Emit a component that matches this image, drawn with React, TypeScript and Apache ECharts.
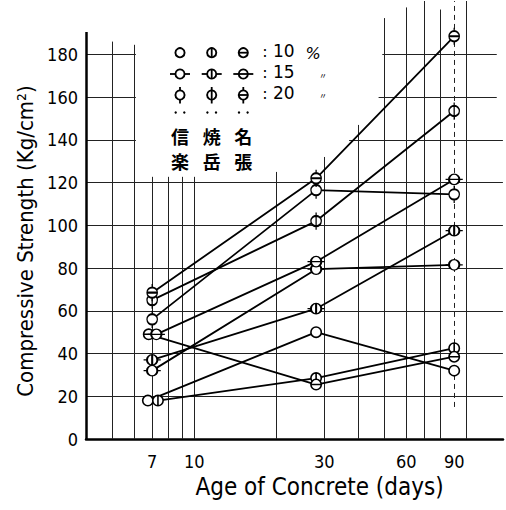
import React, { useEffect, useRef } from 'react';
import * as echarts from 'echarts';

// ---- data ----
const ages = [7, 28, 90];
const xTickLabels = [7, 10, 30, 60, 90];
const yTickLabels = [0, 20, 40, 60, 80, 100, 120, 140, 160, 180];

const seriesNames = ['信楽 10%', '信楽 15%', '信楽 20%', '焼岳 10%', '焼岳 15%', '焼岳 20%', '名張 10%', '名張 15%', '名張 20%'];
const shigaraki10 = [18, 50, 32];
const shigaraki15 = [32, 79.5, 81.5];
const shigaraki20 = [56, 116.5, 114.5];
const yakedake10 = [18, 28.5, 42.5];
const yakedake15 = [37, 61, 97.5];
const yakedake20 = [65, 102, 153.5];
const nabari10 = [49, 25.5, 38.5];
const nabari15 = [49, 83, 121.5];
const nabari20 = [68.5, 122, 188.5];
const allValues = [shigaraki10, shigaraki15, shigaraki20, yakedake10, yakedake15, yakedake20, nabari10, nabari15, nabari20];
// age at which each 7-day value was plotted (coinciding marks drawn side by side)
const plottedAge7 = [6.75, 7, 7, 7.35, 7, 7, 6.8, 7.25, 7];

const legendPercents = ['10', '15', '20'];
const legendSources = [['信', '楽'], ['焼', '岳'], ['名', '張']];

// ---- styles ----
const innerKind = ['none', 'none', 'none', 'v', 'v', 'v', 'h', 'h', 'h'];
const whiskerKind = ['none', 'h', 'v', 'none', 'h', 'v', 'none', 'h', 'v'];
const HAND = "'Liberation Sans Narrow', 'DejaVu Sans Condensed', 'Arial Narrow', sans-serif";

// grid line layout: [value, from, to]
const hGrid: number[][] = [
  [20, 4.001, 135.9], [40, 4.001, 135.9], [60, 4.001, 135.9], [80, 4.001, 135.9],
  [100, 4.001, 135.9], [120, 4.001, 135.9],
  [140, 4.001, 6.1], [140, 37, 135.9],
  [160, 4.001, 6.1], [160, 47.5, 129],
  [180, 4.001, 6.1], [180, 49, 129],
];
const vGrid: number[][] = [
  [5, 0, 186], [6, 0, 184.5], [7, 0, 122.7], [8, 0, 122.7], [9, 0, 122.7], [10, 0, 122.7],
  [20, 0, 125], [30, 0, 132], [40, 0, 147], [50, 0, 197], [60, 0, 202], [70, 0, 205],
  [80, 0, 201], [100, 0, 205],
];

const R = 5.2;
const W = 8.6;
function markerPath(inner: string, whisk: string): string {
  let d = `M0,${-R}A${R},${R},0,1,1,0,${R}A${R},${R},0,1,1,0,${-R}Z`;
  if (inner === 'v') d += `M0,${-R}L0,${R}`;
  if (inner === 'h') d += `M${-R},0L${R},0`;
  if (whisk === 'h') d += `M${-W},0L${-R},0M${R},0L${W},0`;
  if (whisk === 'v') d += `M0,${-W}L0,${-R}M0,${R}L0,${W}`;
  return 'path://' + d;
}
function markerSize(whisk: string): number[] {
  if (whisk === 'h') return [2 * W, 2 * R];
  if (whisk === 'v') return [2 * R, 2 * W];
  return [2 * R, 2 * R];
}

function legendMarker(cx: number, cy: number, inner: string, whisk: string): any[] {
  const r = 4.6;
  const line = (x1: number, y1: number, x2: number, y2: number) => ({
    type: 'line', silent: true,
    shape: { x1, y1, x2, y2 },
    style: { stroke: '#000', lineWidth: 1.8 },
  });
  const els: any[] = [];
  if (whisk === 'h') els.push(line(cx - 10, cy, cx + 10, cy));
  if (whisk === 'v') els.push(line(cx, cy - 8, cx, cy + 8.5));
  els.push({ type: 'circle', silent: true, shape: { cx, cy, r }, style: { fill: '#fff', stroke: '#000', lineWidth: 1.9 } });
  if (inner === 'v') els.push(line(cx, cy - r, cx, cy + r));
  if (inner === 'h') els.push(line(cx - r, cy, cx + r, cy));
  return els;
}

function buildLegend(): any[] {
  const cols = [180, 211.7, 243.3];
  const rows = [52.7, 74, 95];
  const els: any[] = [];
  for (let c = 0; c < 3; c++) {
    for (let r = 0; r < 3; r++) {
      const k = c * 3 + r;
      els.push(...legendMarker(cols[c], rows[r], innerKind[k], whiskerKind[k]));
    }
    // ditto dots
    els.push({ type: 'circle', silent: true, shape: { cx: cols[c] - 4.3, cy: 112.5, r: 1.2 }, style: { fill: '#000' } });
    els.push({ type: 'circle', silent: true, shape: { cx: cols[c] + 4.3, cy: 112.5, r: 1.2 }, style: { fill: '#000' } });
    legendSources[c].forEach((ch, i) => {
      els.push({
        type: 'text', silent: true, x: cols[c], y: 136 + i * 24.5,
        style: { text: ch, fontFamily: "'Noto Sans CJK JP', sans-serif", fontSize: 18, fontWeight: 'bold', lineHeight: 19, fill: '#000', align: 'center', verticalAlign: 'middle' },
      });
    });
  }
  // ": 10 / : 15 / : 20" as two multi-line columns
  els.push({
    type: 'text', silent: true, x: 265, y: 72,
    style: { text: ':\n:\n:', fontFamily: "'DejaVu Sans', sans-serif", fontSize: 16, lineHeight: 21, fill: '#000', align: 'center', verticalAlign: 'middle' },
  });
  els.push({
    type: 'text', silent: true, x: 273, y: 72,
    style: { text: legendPercents.join('\n'), fontFamily: "'DejaVu Sans', sans-serif", fontSize: 17, lineHeight: 21, fill: '#000', align: 'left', verticalAlign: 'middle' },
  });
  els.push({
    type: 'text', silent: true, x: 313, y: 53,
    style: { text: '%', fontFamily: "'DejaVu Sans', sans-serif", fontSize: 16, fontStyle: 'italic', lineHeight: 16, fill: '#000', align: 'center', verticalAlign: 'middle' },
  });
  els.push({
    type: 'text', silent: true, x: 323, y: 85,
    style: { text: '〃\n〃', fontFamily: "'Noto Sans CJK JP', sans-serif", fontSize: 8, lineHeight: 20, fill: '#000', align: 'center', verticalAlign: 'middle' },
  });
  return els;
}

export default function App() {
  const ref = useRef<HTMLDivElement>(null);
  useEffect(() => {
    if (!ref.current) return;
    const chart = echarts.init(ref.current, null, { renderer: 'svg' });

    const gridLineStyle = { color: '#222', width: 1, type: 'solid' };
    const markData: any[] = [];
    hGrid.forEach(([y, x1, x2]) => markData.push([{ coord: [x1, y], lineStyle: gridLineStyle }, { coord: [x2, y] }]));
    vGrid.forEach(([x, y1, y2]) => markData.push([{ coord: [x, y1], lineStyle: gridLineStyle }, { coord: [x, y2] }]));
    // broken line through the 90-day marks
    markData.push([{ coord: [90, 15], lineStyle: { color: '#222', width: 1, type: [5, 4] } }, { coord: [90, 205] }]);
    // vertical axis line (ends just above 180)
    markData.push([{ coord: [4.001, 0], lineStyle: { color: '#000', width: 2.5, type: 'solid' } }, { coord: [4.001, 190.5] }]);

    const dataSeries = allValues.map((vals, k) => ({
      name: seriesNames[k],
      type: 'line',
      z: 10,
      silent: true,
      data: vals.map((v, i) => [i === 0 ? plottedAge7[k] : ages[i], v]),
      symbol: markerPath(innerKind[k], whiskerKind[k]),
      symbolSize: markerSize(whiskerKind[k]),
      showAllSymbol: true,
      lineStyle: { color: '#000', width: 1.8 },
      itemStyle: { color: '#fff', borderColor: '#000', borderWidth: 1.6 },
      emphasis: { disabled: true },
    }));

    const gridSeries = {
      name: 'grid',
      type: 'line',
      z: 2,
      silent: true,
      data: [],
      markLine: {
        silent: true,
        symbol: 'none',
        label: { show: false },
        emphasis: { disabled: true },
        animation: false,
        data: markData,
      },
    };

    chart.setOption({
      animation: false,
      backgroundColor: '#fff',
      grid: { left: 86, right: 3, top: 1, bottom: 71, containLabel: false, outerBoundsMode: 'none' },
      xAxis: {
        type: 'log',
        logBase: 10,
        min: 4,
        max: 136,
        name: 'Age of Concrete (days)',
        nameLocation: 'middle',
        nameGap: 36,
        nameTextStyle: { fontFamily: HAND, fontSize: 24, color: '#000', padding: [0, 0, 0, 50] },
        axisLine: { show: true, onZero: false, lineStyle: { color: '#000', width: 2.5 } },
        axisTick: { show: false },
        minorTick: { show: false },
        splitLine: { show: false },
        minorSplitLine: { show: false },
        axisLabel: {
          customValues: xTickLabels,
          formatter: (v: number) => String(Math.round(v)),
          fontFamily: HAND,
          fontSize: 18,
          color: '#000',
          margin: 13,
        },
      },
      yAxis: {
        type: 'value',
        min: 0,
        max: 205,
        name: 'Compressive Strength (Kg/cm²)',
        nameLocation: 'middle',
        nameGap: 40,
        nameRotate: 90,
        nameTextStyle: { fontFamily: HAND, fontSize: 22, color: '#000', padding: [0, 42, 0, 0] },
        axisLine: { show: false },
        axisTick: { show: false },
        splitLine: { show: false },
        axisLabel: {
          customValues: yTickLabels,
          fontFamily: HAND,
          fontSize: 18,
          color: '#000',
          margin: 8,
        },
      },
      series: [gridSeries, ...dataSeries],
      graphic: buildLegend(),
    });
    return () => chart.dispose();
  }, []);
  return <div ref={ref} style={{ position: 'absolute', left: 0, top: 0, width: 506, height: 510 }} />;
}
